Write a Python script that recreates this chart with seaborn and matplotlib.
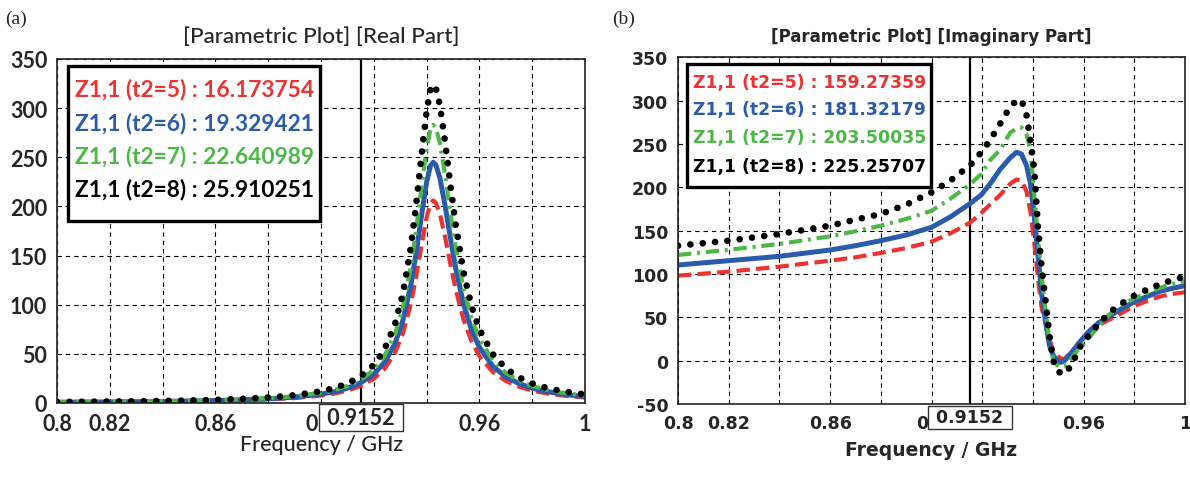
import matplotlib
matplotlib.use("Agg")
import matplotlib.pyplot as plt
import matplotlib.transforms as mtransforms
from matplotlib.patches import Rectangle
from matplotlib.font_manager import FontProperties
import seaborn as sns

# ---------------- data ----------------
freq_real = [0.800, 0.810, 0.820, 0.830, 0.840, 0.850, 0.860, 0.870, 0.880, 0.890,
             0.900, 0.905, 0.910, 0.915, 0.920, 0.924, 0.928, 0.931, 0.934, 0.936,
             0.938, 0.940, 0.9415, 0.9425, 0.9435, 0.945, 0.947, 0.949, 0.951, 0.954,
             0.957, 0.960, 0.965, 0.970, 0.975, 0.980, 0.985, 0.990, 0.995, 1.000]
real_t5 = [0.7, 0.8, 0.9, 1.1, 1.3, 1.7, 2.1, 2.7, 3.6, 5.0,
           7.6, 9.6, 12.6, 17.2, 24.7, 34.5, 50.8, 70.6, 100.5, 127.7,
           159.2, 188.9, 203.1, 206.0, 203.7, 192.8, 168.9, 141.3, 115.6, 84.7,
           62.8, 47.6, 31.7, 22.4, 16.5, 12.7, 10.0, 8.1, 6.7, 5.6]
real_t6 = [0.8, 1.0, 1.1, 1.3, 1.6, 2.0, 2.5, 3.2, 4.3, 6.0,
           9.0, 11.4, 15.0, 20.5, 29.4, 41.1, 60.5, 83.9, 119.6, 151.9,
           189.4, 224.7, 241.6, 245.0, 242.3, 229.3, 200.9, 168.1, 137.4, 100.7,
           74.7, 56.7, 37.7, 26.6, 19.7, 15.1, 11.9, 9.6, 7.9, 6.6]
real_t7 = [1.0, 1.1, 1.3, 1.5, 1.8, 2.3, 2.8, 3.7, 4.9, 6.9,
           10.4, 13.2, 17.3, 23.6, 33.9, 47.4, 69.8, 96.9, 138.1, 175.5,
           218.8, 259.5, 279.0, 283.0, 279.9, 264.9, 232.1, 194.1, 158.8, 116.3,
           86.3, 65.5, 43.6, 30.7, 22.7, 17.4, 13.7, 11.1, 9.2, 7.7]
real_t8 = [1.1, 1.3, 1.5, 1.8, 2.1, 2.6, 3.2, 4.2, 5.6, 7.9,
           11.9, 15.1, 19.8, 27.1, 38.8, 54.3, 80.0, 111.0, 158.1, 200.9,
           250.5, 297.1, 319.5, 324.0, 320.4, 303.3, 265.7, 222.3, 181.8, 133.2,
           98.8, 74.9, 49.9, 35.2, 26.0, 19.9, 15.7, 12.7, 10.5, 8.8]

freq_imag = [0.800, 0.820, 0.840, 0.860, 0.870, 0.880, 0.890, 0.900, 0.9075, 0.9152,
             0.9195, 0.923, 0.927, 0.931, 0.9335, 0.9355, 0.9375, 0.939, 0.9405, 0.942,
             0.9435, 0.945, 0.9465, 0.948, 0.9495, 0.951, 0.9525, 0.954, 0.956, 0.958,
             0.962, 0.966, 0.970, 0.975, 0.980, 0.985, 0.990, 0.995, 1.000]
imag_t5 = [98.1, 102.7, 108.5, 115.4, 119.3, 124.3, 130.0, 137.3, 147.0, 159.3,
           170.0, 180.0, 191.0, 204.0, 209.0, 208.0, 195.0, 172.0, 137.0, 95.0,
           60.0, 43.0, 25.0, 12.0, 6.0, 2.5, 2.0, 7.0, 13.0, 19.0,
           32.0, 41.0, 47.0, 55.0, 63.0, 69.0, 74.0, 77.0, 79.0]
imag_t6 = [110.4, 115.4, 120.4, 127.7, 132.7, 138.5, 145.0, 153.9, 166.0, 181.3,
           191.0, 203.5, 220.5, 234.0, 240.5, 238.5, 225.0, 205.0, 168.0, 122.0,
           76.0, 45.0, 18.0, 6.0, 0.0, -2.0, 0.0, 5.5, 12.0, 20.0,
           33.5, 44.0, 51.0, 60.0, 68.0, 74.0, 80.0, 83.5, 86.5]
imag_t7 = [122.0, 128.0, 134.7, 143.5, 149.3, 155.8, 163.5, 173.0, 187.0, 203.5,
           215.0, 231.0, 243.0, 263.0, 268.0, 269.0, 261.0, 244.0, 192.0, 142.0,
           96.0, 58.0, 23.0, 1.0, -5.0, -7.5, -6.5, -3.0, 5.8, 13.0,
           26.0, 40.0, 53.0, 64.0, 72.0, 78.0, 84.0, 88.5, 92.0]
imag_t8 = [132.7, 138.5, 146.2, 155.8, 162.7, 169.3, 180.0, 194.3, 208.0, 225.3,
           240.0, 254.0, 273.0, 293.0, 300.0, 301.0, 283.0, 255.0, 222.0, 155.0,
           106.0, 69.0, 30.0, 0.0, -11.0, -14.5, -15.3, -10.0, -1.0, 13.5,
           29.0, 42.5, 55.0, 66.0, 75.0, 82.0, 88.0, 93.0, 97.0]

series_params = ["t2=5", "t2=6", "t2=7", "t2=8"]
real_marker_vals = ["16.173754", "19.329421", "22.640989", "25.910251"]
imag_marker_vals = ["159.27359", "181.32179", "203.50035", "225.25707"]
marker_freq = 0.9152
marker_label = "0.9152"

xticks = [0.80, 0.82, 0.84, 0.86, 0.88, 0.90, 0.92, 0.94, 0.96, 0.98, 1.00]
xtick_labels = ["0.8", "0.82", "", "0.86", "", "", "", "", "0.96", "", "1"]
# the 0.9 tick label is mostly hidden behind the marker box: only "0" shows
partial_tick_pos = 0.90
partial_tick_text = "0"
yticks_real = [0, 50, 100, 150, 200, 250, 300, 350]
yticks_imag = [-50, 0, 50, 100, 150, 200, 250, 300, 350]

title_real = "[Parametric Plot] [Real Part]"
title_imag = "[Parametric Plot] [Imaginary Part]"
xlabel = "Frequency / GHz"

# ---------------- style ----------------
colors = ["#ee3232", "#2b5cab", "#4db848", "#000000"]
styles = [
    dict(linewidth=3.0, linestyle=(0, (3.2, 1.5)), dash_capstyle="butt"),
    dict(linewidth=3.6, linestyle="-", solid_capstyle="round"),
    dict(linewidth=3.0, linestyle=(0, (3.2, 1.4, 0.7, 1.4)), dash_capstyle="butt"),
    dict(linewidth=4.8, linestyle=(0, (0.01, 1.85)), dash_capstyle="round"),
]

sns.set_style("white")
plt.rcParams["font.family"] = ["DejaVu Sans"]
plt.rcParams["axes.unicode_minus"] = False

W, H = 1190, 481
fig = plt.figure(figsize=(W / 100, H / 100), dpi=100)
ax1 = fig.add_axes([57 / W, 1 - 404 / H, 528 / W, 344 / H])
ax2 = fig.add_axes([678 / W, 1 - 405 / H, 507 / W, 346.6 / H])

fp_a_tick = FontProperties(family="Lato", weight="bold", size=15.5)
fp_a_title = FontProperties(family="Lato", weight="medium", size=16.2)
fp_a_xlab = FontProperties(family="Lato", weight="medium", size=15.5)
fp_a_leg = FontProperties(family="Lato", weight="bold", size=16.4)
fp_b_tick = FontProperties(family="DejaVu Sans", weight="bold", size=12.5)
fp_b_title = FontProperties(family="DejaVu Sans", weight="bold", size=12)
fp_b_xlab = FontProperties(family="DejaVu Sans", weight="bold", size=13.5)
fp_b_leg = FontProperties(family="DejaVu Sans", weight="bold", size=12.4)


def draw_panel(ax, freq, series, yticks, ylim, title, marker_vals,
               fp_tick, fp_title, fp_xlab, xlab_pad, title_pad, fp_leg,
               box, text_x, text_ys):
    ax.axvline(marker_freq, color="black", lw=1.6, zorder=1.8)
    for vals, c, st in zip(series, colors, styles):
        sns.lineplot(x=freq, y=vals, ax=ax, color=c, errorbar=None,
                     legend=False, **st)
    ax.set_xlim(0.8, 1.0)
    ax.set_ylim(*ylim)
    ax.set_xticks(xticks)
    ax.set_xticklabels(xtick_labels, fontproperties=fp_tick)
    ax.set_yticks(yticks)
    ax.set_yticklabels([str(v) for v in yticks], fontproperties=fp_tick)
    ax.grid(True, color="black", linestyle=(0, (4, 3.5)), linewidth=0.8)
    ax.tick_params(axis="both", direction="out", length=5, width=1,
                   color="#222222", pad=2)
    for sp in ax.spines.values():
        sp.set_color("#222222")
        sp.set_linewidth(1.2)
    ax.set_xlabel(xlabel, fontproperties=fp_xlab, labelpad=xlab_pad)
    ax.set_ylabel("")
    ax.set_title(title, fontproperties=fp_title, pad=title_pad)
    trans = mtransforms.blended_transform_factory(ax.transData, ax.transAxes)
    # visible remainder of the 0.9 tick label, left of the marker box
    ax.annotate(partial_tick_text, xy=(partial_tick_pos, 0), xycoords=trans,
                xytext=(-2.5, -7), textcoords="offset points", ha="right",
                va="top", fontproperties=fp_tick, annotation_clip=False)
    # marker value box below the axis
    ax.text(marker_freq, -0.012, " " + marker_label + " ", transform=trans,
            ha="center", va="top", fontproperties=fp_tick, zorder=10,
            clip_on=False,
            bbox=dict(boxstyle="square,pad=0.15", fc="white", ec="#333333",
                      lw=1.0))
    # marker readout box
    x0, y0, x1, y1 = box
    ax.add_patch(Rectangle((x0, y0), x1 - x0, y1 - y0, transform=ax.transAxes,
                           facecolor="white", edgecolor="black", lw=2.4,
                           zorder=6))
    for p, v, c, ty in zip(series_params, marker_vals, colors, text_ys):
        ax.text(text_x, ty, f"Z1,1 ({p}) : {v}", transform=ax.transAxes,
                ha="left", va="center", color=c, fontproperties=fp_leg,
                zorder=7)


draw_panel(ax1, freq_real, [real_t5, real_t6, real_t7, real_t8], yticks_real,
           (0, 350), title_real, real_marker_vals, fp_a_tick, fp_a_title,
           fp_a_xlab, 0, 12, fp_a_leg,
           (0.0214, 0.530, 0.498, 0.9805), 0.0341,
           [0.9128, 0.8160, 0.7189, 0.6221])
draw_panel(ax2, freq_imag, [imag_t5, imag_t6, imag_t7, imag_t8], yticks_imag,
           (-50, 350), title_imag, imag_marker_vals, fp_b_tick, fp_b_title,
           fp_b_xlab, 6, 12, fp_b_leg,
           (0.0177, 0.626, 0.499, 0.981), 0.0295,
           [0.928, 0.851, 0.769, 0.687])

fig.text(5 / W, 1 - 19 / H, "(a)", family="Liberation Serif", size=14,
         va="center", ha="left")
fig.text(612 / W, 1 - 19 / H, "(b)", family="Liberation Serif", size=14,
         va="center", ha="left")

fig.savefig("out.png", dpi=100)
